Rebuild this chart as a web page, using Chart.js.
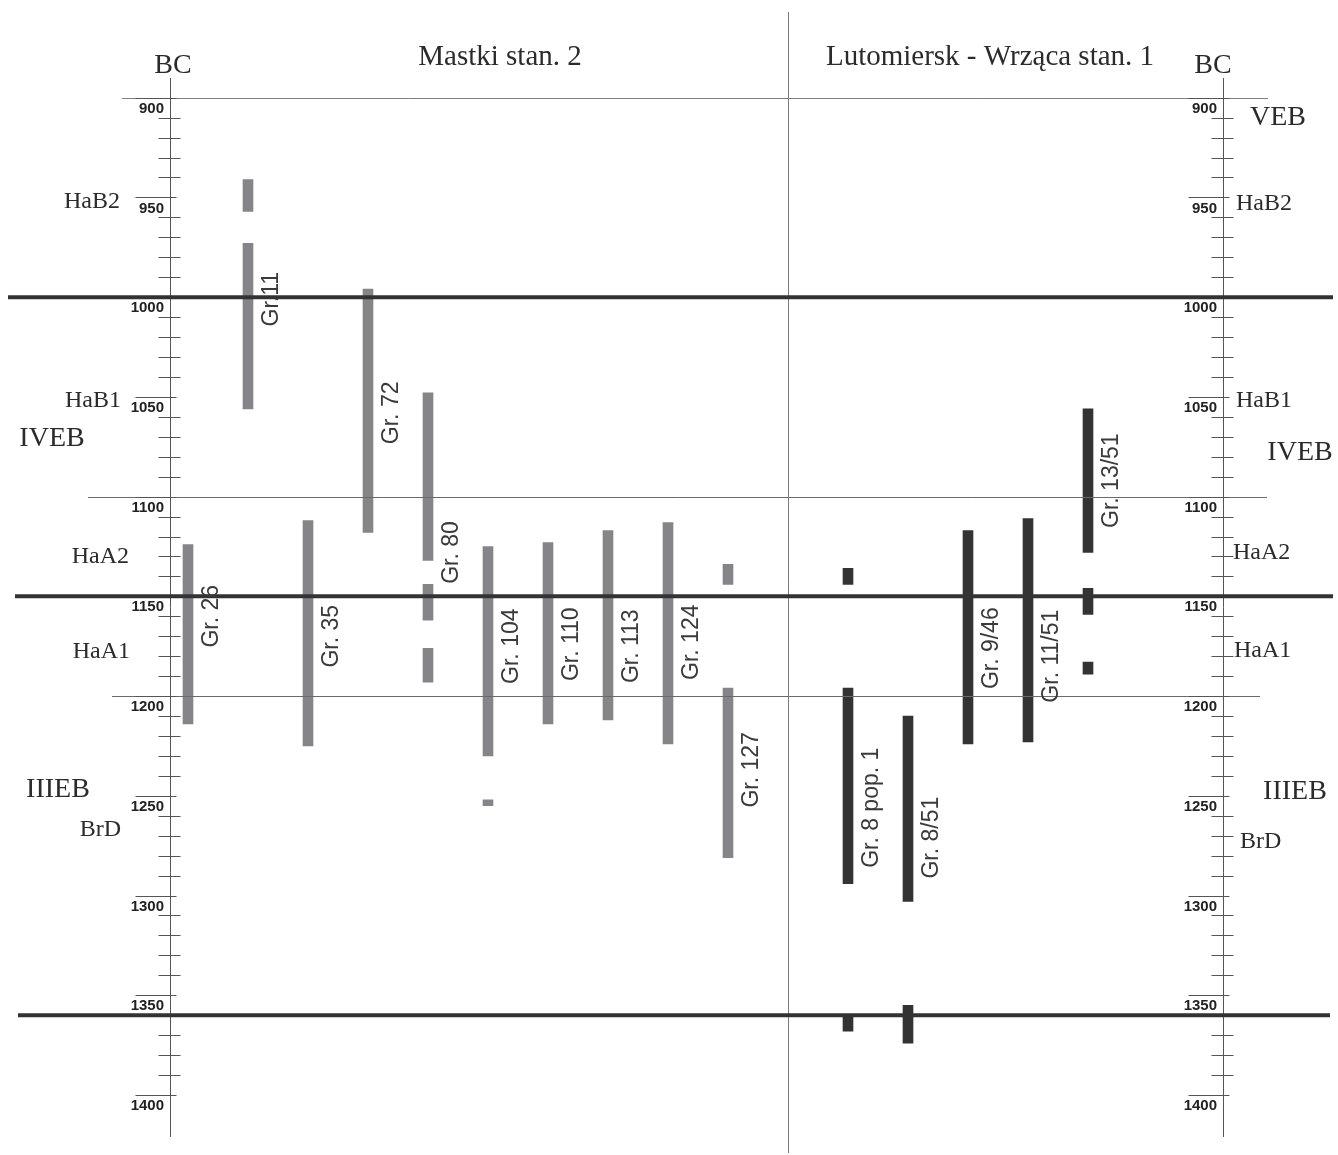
<!DOCTYPE html>
<html>
<head>
<meta charset="utf-8">
<title>Mastki stan. 2 / Lutomiersk - Wrząca stan. 1</title>
<script src="https://cdn.jsdelivr.net/npm/chart.js@4.4.1/dist/chart.umd.min.js"></script>
<style>
  body { margin: 0; background: #fff; }
  canvas { display: block; }
</style>
</head>
<body>
<canvas id="chron" width="1338" height="1155"></canvas>
<script>
// years BC, the scale runs downward from 900 to 1400
var tickLabels = ['900', '950', '1000', '1050', '1100', '1150', '1200', '1250', '1300', '1350', '1400'];

var mastkiGraves = ['Gr. 26', 'Gr.11', 'Gr. 35', 'Gr. 72', 'Gr. 80', 'Gr. 104', 'Gr. 110', 'Gr. 113', 'Gr. 124', 'Gr. 127'];
var mastkiRanges = [
  [[1124, 1214]],
  [[941, 957], [973, 1056]],
  [[1112, 1225]],
  [[996, 1118]],
  [[1048, 1132], [1144, 1162], [1176, 1193]],
  [[1125, 1230], [1252, 1255]],
  [[1123, 1214]],
  [[1117, 1212]],
  [[1113, 1224]],
  [[1134, 1144], [1196, 1281]]
];

var lutoGraves = ['Gr. 8 pop. 1', 'Gr. 8/51', 'Gr. 9/46', 'Gr. 11/51', 'Gr. 13/51'];
var lutoRanges = [
  [[1136, 1144], [1196, 1294], [1361, 1368]],
  [[1210, 1303], [1355, 1374]],
  [[1117, 1224]],
  [[1111, 1223]],
  [[1056, 1128], [1146, 1159], [1183, 1189]]
];

// chronological boundaries
var mainBounds = [1000, 1150, 1360];
var phaseBounds = [900, 1100, 1200];

var phaseNames = ['HaB2', 'HaB1', 'HaA2', 'HaA1', 'BrD'];
var ageNames = ['VEB', 'IVEB', 'IIIEB'];

// where the text annotations sit, in years
var mastkiLabelAt = [1160, 1001, 1170, 1058, 1128, 1175, 1174, 1175, 1173, 1237];
var lutoLabelAt = [1256, 1271, 1176, 1180, 1092];
var phaseAtLeft = [952, 1052, 1130, 1178, 1267];
var phaseAtRight = [953, 1052, 1128, 1177, 1273];
var ageAtLeft = [null, 1071, 1247];
var ageAtRight = [910, 1078, 1248];

function toBars(ranges, first) {
  var out = [];
  ranges.forEach(function (segs, i) {
    segs.forEach(function (s) { out.push({ x: first + i, y: s }); });
  });
  return out;
}

var lutoFirst = mastkiGraves.length + 1; // one empty slot between the two sites

var overlay = {
  id: 'overlay',
  afterDatasetsDraw: function (chart) {
    var ctx = chart.ctx;
    var ys = chart.scales.y, xs = chart.scales.x, area = chart.chartArea;
    var axes = [area.left, area.right];
    ctx.save();

    // thin phase lines
    var thinSpan = { 900: [122, 1268], 1100: [88, 1267], 1200: [112, 1260] };
    ctx.lineWidth = 1;
    phaseBounds.forEach(function (v) {
      var py = Math.round(ys.getPixelForValue(v)) + 0.5;
      ctx.strokeStyle = v === 900 ? '#808080' : '#6a6a6a';
      ctx.beginPath();
      ctx.moveTo(thinSpan[v][0], py);
      ctx.lineTo(thinSpan[v][1], py);
      ctx.stroke();
    });

    // site divider
    var dx = Math.round(xs.getPixelForValue(mastkiGraves.length)) + 0.5;
    ctx.strokeStyle = '#7a7a7a';
    ctx.beginPath();
    ctx.moveTo(dx, 12);
    ctx.lineTo(dx, 1153);
    ctx.stroke();

    // year axes with ticks
    ctx.strokeStyle = '#555';
    axes.forEach(function (ax) {
      var axp = Math.round(ax) + 0.5;
      ctx.beginPath();
      ctx.moveTo(axp, 78);
      ctx.lineTo(axp, 1137);
      ctx.stroke();
      for (var v = 900; v <= 1400; v += 10) {
        var py = Math.round(ys.getPixelForValue(v)) + 0.5;
        ctx.beginPath();
        if (v % 50 === 0) {
          ctx.moveTo(axp - 35, py);
          ctx.lineTo(axp + 6, py);
        } else {
          ctx.moveTo(axp - 12, py);
          ctx.lineTo(axp + 10, py);
        }
        ctx.stroke();
      }
      ctx.fillStyle = '#222';
      ctx.font = 'bold 15px "Liberation Sans", Arial, sans-serif';
      ctx.textAlign = 'right';
      ctx.textBaseline = 'middle';
      tickLabels.forEach(function (t) {
        ctx.fillText(t, ax - 6, ys.getPixelForValue(Number(t)) + 11);
      });
    });

    // heavy boundaries
    var heavySpan = { 1000: [8, 1333], 1150: [15, 1333], 1360: [18, 1330] };
    ctx.strokeStyle = '#333';
    ctx.lineWidth = 4;
    mainBounds.forEach(function (v) {
      var py = ys.getPixelForValue(v);
      ctx.beginPath();
      ctx.moveTo(heavySpan[v][0], py);
      ctx.lineTo(heavySpan[v][1], py);
      ctx.stroke();
    });

    // grave labels, rotated
    ctx.fillStyle = '#3a3a3a';
    ctx.font = '23px "Liberation Sans", Arial, sans-serif';
    ctx.textAlign = 'center';
    ctx.textBaseline = 'middle';
    function graveLabel(name, slot, at) {
      ctx.save();
      ctx.translate(xs.getPixelForValue(slot) + 24, ys.getPixelForValue(at));
      ctx.rotate(-Math.PI / 2);
      ctx.fillText(name, 0, 0);
      ctx.restore();
    }
    mastkiGraves.forEach(function (g, i) { graveLabel(g, i, mastkiLabelAt[i]); });
    lutoGraves.forEach(function (g, i) { graveLabel(g, lutoFirst + i, lutoLabelAt[i]); });

    // titles and period names
    ctx.fillStyle = '#2b2b2b';
    ctx.textBaseline = 'alphabetic';
    ctx.font = '28px "Liberation Serif", "Times New Roman", serif';
    ctx.textAlign = 'center';
    ctx.fillText('BC', area.left + 3, 73);
    ctx.fillText('BC', area.right - 10, 73);
    ctx.font = '29px "Liberation Serif", "Times New Roman", serif';
    ctx.fillText('Mastki stan. 2', 500, 65);
    ctx.fillText('Lutomiersk - Wrząca stan. 1', 990, 65);

    ctx.textBaseline = 'middle';
    ctx.font = '24px "Liberation Serif", "Times New Roman", serif';
    var phaseLeftX = [120, 121, 129, 130, 121];
    var phaseRightX = [1236, 1236, 1233, 1234, 1240];
    phaseNames.forEach(function (p, i) {
      ctx.textAlign = 'right';
      ctx.fillText(p, phaseLeftX[i], ys.getPixelForValue(phaseAtLeft[i]));
      ctx.textAlign = 'left';
      ctx.fillText(p, phaseRightX[i], ys.getPixelForValue(phaseAtRight[i]));
    });
    ctx.font = '28px "Liberation Serif", "Times New Roman", serif';
    ctx.textAlign = 'center';
    var ageLeftX = [null, 52, 58];
    var ageRightX = [1278, 1300, 1295];
    ageNames.forEach(function (a, i) {
      if (ageAtLeft[i] !== null) ctx.fillText(a, ageLeftX[i], ys.getPixelForValue(ageAtLeft[i]));
      ctx.fillText(a, ageRightX[i], ys.getPixelForValue(ageAtRight[i]));
    });

    ctx.restore();
  }
};

new Chart(document.getElementById('chron').getContext('2d'), {
  type: 'bar',
  data: {
    datasets: [{
      label: 'Mastki stan. 2',
      data: toBars(mastkiRanges, 0),
      backgroundColor: '#858589',
      borderWidth: 0,
      grouped: false,
      barThickness: 10
    }, {
      label: 'Lutomiersk - Wrząca stan. 1',
      data: toBars(lutoRanges, lutoFirst),
      backgroundColor: '#333333',
      borderWidth: 0,
      grouped: false,
      barThickness: 10
    }]
  },
  options: {
    responsive: false,
    animation: false,
    layout: { padding: { left: 170, right: 115, top: 97.7, bottom: 60 } },
    scales: {
      x: { type: 'linear', display: false, offset: false, min: -0.3, max: 17.25 },
      y: { type: 'linear', display: false, reverse: true, min: 900, max: 1400 }
    },
    plugins: {
      legend: { display: false },
      tooltip: { enabled: false }
    }
  },
  plugins: [overlay]
});
</script>
</body>
</html>
